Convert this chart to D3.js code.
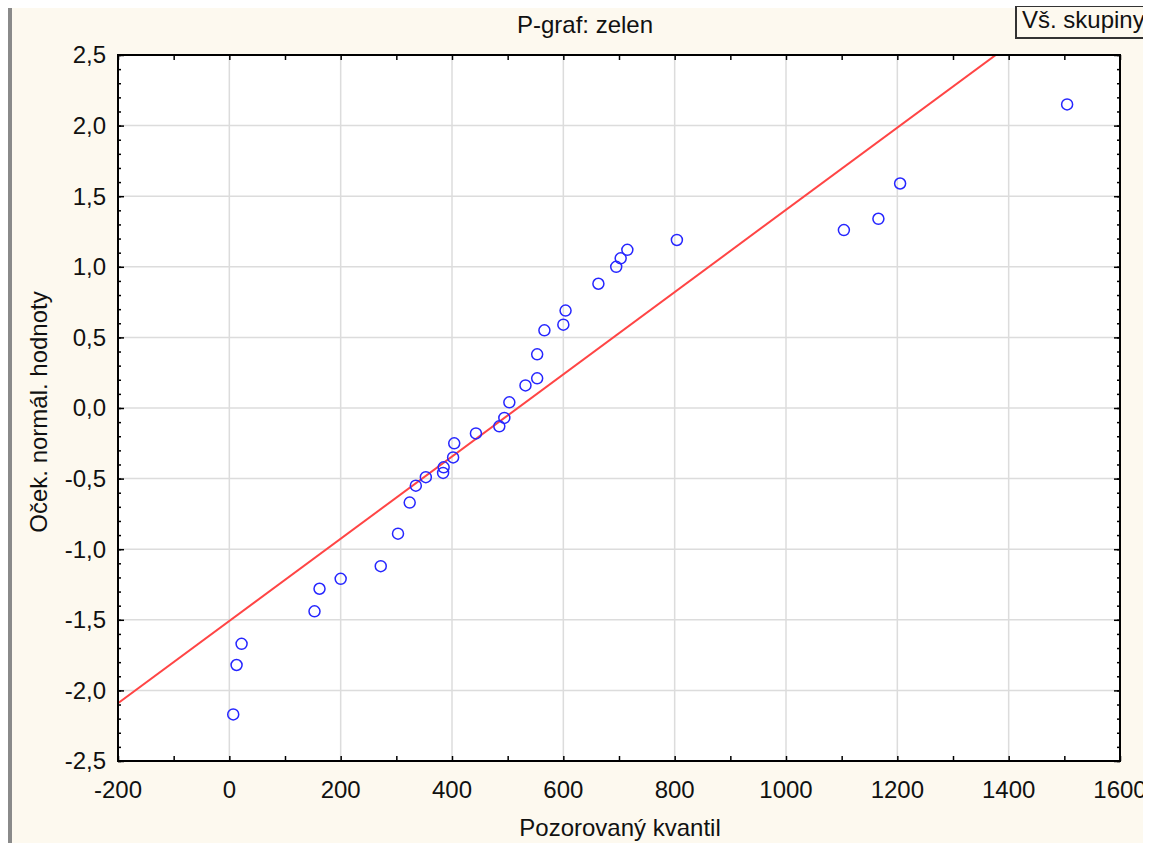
<!DOCTYPE html>
<html>
<head>
<meta charset="utf-8">
<script src="https://cdn.jsdelivr.net/npm/d3@7"></script>
<style>
  html, body { margin: 0; padding: 0; background: #fff; }
  svg { display: block; font-family: "Liberation Sans", Arial, sans-serif; }
</style>
</head>
<body>
<div id="graph"></div>
<script>
// Observed quantiles (x) and expected normal values (y)
const observed = [7, 13, 22, 153, 162, 200, 272, 303, 324, 335, 353, 384, 385, 402, 404,
                  443, 485, 494, 503, 532, 553, 553, 566, 600, 604, 663, 695, 703, 715, 804,
                  1104, 1166, 1205, 1505];
const expected = [-2.17, -1.82, -1.67, -1.44, -1.28, -1.21, -1.12, -0.89, -0.67, -0.55, -0.49, -0.46, -0.42, -0.35, -0.25,
                  -0.18, -0.13, -0.07, 0.04, 0.16, 0.21, 0.38, 0.55, 0.59, 0.69, 0.88, 1.00, 1.06, 1.12, 1.19,
                  1.26, 1.34, 1.59, 2.15];

// Reference line: (x - mean) / sd
const lineMean = 518;
const lineSd = 343.5;

const xTicks = [-200, 0, 200, 400, 600, 800, 1000, 1200, 1400, 1600];
const yTicks = [-2.5, -2.0, -1.5, -1.0, -0.5, 0.0, 0.5, 1.0, 1.5, 2.0, 2.5];

const title = "P-graf: zelen";
const xLabel = "Pozorovaný kvantil";
const yLabel = "Oček. normál. hodnoty";
const legendText = "Vš. skupiny";

const width = 1154;
const height = 843;
const marginTop = 55;
const marginBottom = 82;
const marginLeft = 118;
const marginRight = 34;

const x = d3.scaleLinear().domain([-200, 1600]).range([marginLeft, width - marginRight]);
const y = d3.scaleLinear().domain([-2.5, 2.5]).range([height - marginBottom, marginTop]);

const svg = d3.create("svg")
    .attr("width", width)
    .attr("height", height);

// Cream panel
svg.append("rect")
    .attr("x", 0).attr("y", 8)
    .attr("width", width).attr("height", height - 8)
    .attr("fill", "#fdf9ef");

svg.append("rect")
    .attr("x", 0).attr("y", 0)
    .attr("width", 8).attr("height", height)
    .attr("fill", "#fff");

svg.append("rect")
    .attr("x", 8).attr("y", 8)
    .attr("width", 4).attr("height", height - 8)
    .attr("fill", "#8a8a8a");

// Plot background
svg.append("rect")
    .attr("x", x(-200)).attr("y", y(2.5))
    .attr("width", x(1600) - x(-200)).attr("height", y(-2.5) - y(2.5))
    .attr("fill", "#fff");

svg.append("clipPath").attr("id", "plotClip")
  .append("rect")
    .attr("x", x(-200)).attr("y", y(2.5))
    .attr("width", x(1600) - x(-200)).attr("height", y(-2.5) - y(2.5));

// Grid
const grid = svg.append("g").attr("stroke", "#dcdcdc").attr("stroke-width", 1.5);
grid.selectAll("line.v")
  .data(xTicks.slice(1, -1))
  .join("line")
    .attr("x1", d => x(d)).attr("x2", d => x(d))
    .attr("y1", y(2.5)).attr("y2", y(-2.5));
grid.selectAll("line.h")
  .data(yTicks.slice(1, -1))
  .join("line")
    .attr("y1", d => y(d)).attr("y2", d => y(d))
    .attr("x1", x(-200)).attr("x2", x(1600));

// Reference line
svg.append("line")
    .attr("clip-path", "url(#plotClip)")
    .attr("x1", x(-200)).attr("y1", y((-200 - lineMean) / lineSd))
    .attr("x2", x(1600)).attr("y2", y((1600 - lineMean) / lineSd))
    .attr("stroke", "#ff4545")
    .attr("stroke-width", 2);

// Points
svg.append("g")
    .attr("fill", "none")
    .attr("stroke", "#2626ff")
    .attr("stroke-width", 1.5)
  .selectAll("circle")
  .data(observed.map((d, i) => [d, expected[i]]))
  .join("circle")
    .attr("cx", d => x(d[0]))
    .attr("cy", d => y(d[1]))
    .attr("r", 5.5);

// Axes (ticks pointing inward on all four sides)
const xMinor = d3.range(-200, 1601, 100);
const yMinor = d3.range(-25, 26).map(d => d / 10);
const fmtY = v => d3.format(".1f")(v).replace(".", ",").replace("−", "-");

function styleAxis(g) {
  g.select(".domain").remove();
  g.selectAll(".tick line").attr("stroke", "#000").attr("stroke-width", 1.5);
}

svg.append("g")
    .attr("transform", `translate(0,${y(-2.5)})`)
    .call(d3.axisTop(x).tickValues(xMinor).tickSize(5).tickFormat(""))
    .call(styleAxis);
svg.append("g")
    .attr("transform", `translate(0,${y(2.5)})`)
    .call(d3.axisBottom(x).tickValues(xMinor).tickSize(5).tickFormat(""))
    .call(styleAxis);
svg.append("g")
    .attr("transform", `translate(${x(-200)},0)`)
    .call(d3.axisRight(y).tickValues(yMinor).tickSize(3).tickFormat(""))
    .call(styleAxis);
svg.append("g")
    .attr("transform", `translate(${x(1600)},0)`)
    .call(d3.axisLeft(y).tickValues(yMinor).tickSize(3).tickFormat(""))
    .call(styleAxis);
svg.append("g")
    .attr("transform", `translate(${x(-200)},0)`)
    .call(d3.axisRight(y).tickValues(yTicks).tickSize(6).tickFormat(""))
    .call(styleAxis);
svg.append("g")
    .attr("transform", `translate(${x(1600)},0)`)
    .call(d3.axisLeft(y).tickValues(yTicks).tickSize(6).tickFormat(""))
    .call(styleAxis);

// Frame
svg.append("rect")
    .attr("x", x(-200)).attr("y", y(2.5))
    .attr("width", x(1600) - x(-200)).attr("height", y(-2.5) - y(2.5))
    .attr("fill", "none")
    .attr("stroke", "#000")
    .attr("stroke-width", 2);

// Tick labels
svg.append("g")
    .attr("font-size", 24)
    .attr("fill", "#111")
    .attr("text-anchor", "middle")
  .selectAll("text")
  .data(xTicks)
  .join("text")
    .attr("x", d => x(d))
    .attr("y", 798)
    .text(d => d3.format("d")(d).replace("−", "-"));

svg.append("g")
    .attr("font-size", 24)
    .attr("fill", "#111")
    .attr("text-anchor", "end")
  .selectAll("text")
  .data(yTicks)
  .join("text")
    .attr("x", 106)
    .attr("y", d => y(d))
    .attr("dy", "0.35em")
    .text(d => fmtY(d));

// Titles
svg.append("text")
    .attr("x", 585).attr("y", 33)
    .attr("text-anchor", "middle")
    .attr("font-size", 24)
    .attr("fill", "#111")
    .text(title);

svg.append("text")
    .attr("x", 620).attr("y", 836)
    .attr("text-anchor", "middle")
    .attr("font-size", 24)
    .attr("fill", "#111")
    .text(xLabel);

svg.append("text")
    .attr("transform", `translate(47,${412}) rotate(-90)`)
    .attr("text-anchor", "middle")
    .attr("font-size", 24)
    .attr("fill", "#111")
    .text(yLabel);

// Legend box
svg.append("rect")
    .attr("x", 1016).attr("y", 6)
    .attr("width", 160).attr("height", 32)
    .attr("fill", "#fdf9ef")
    .attr("stroke", "#333")
    .attr("stroke-width", 2);
svg.append("text")
    .attr("x", 1022).attr("y", 28)
    .attr("font-size", 24)
    .attr("fill", "#111")
    .text(legendText);

// White strips at the top and right edge
svg.append("rect")
    .attr("x", 0).attr("y", 0)
    .attr("width", width).attr("height", 6)
    .attr("fill", "#fff");
svg.append("rect")
    .attr("x", 1143).attr("y", 0)
    .attr("width", width - 1143).attr("height", height)
    .attr("fill", "#fff");

document.getElementById("graph").appendChild(svg.node());
</script>
</body>
</html>
